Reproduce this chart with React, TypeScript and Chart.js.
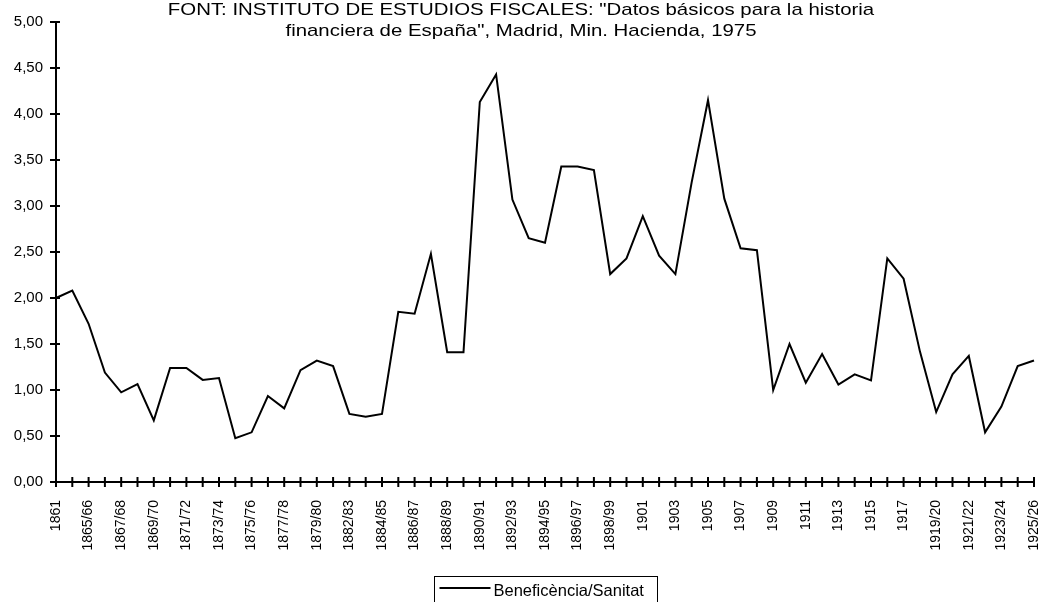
import React, { useEffect, useRef } from "react";
import { Chart, registerables } from "chart.js";

Chart.register(...registerables);

const categories: string[] = [
  "1861", "1864/65", "1865/66", "1866/67", "1867/68", "1868/69", "1869/70", "1870/71",
  "1871/72", "1872/73", "1873/74", "1874/75", "1875/76", "1876/77", "1877/78", "1878/79",
  "1879/80", "1880/81", "1882/83", "1883/84", "1884/85", "1885/86", "1886/87", "1887/88",
  "1888/89", "1889/90", "1890/91", "1891/92", "1892/93", "1893/94", "1894/95", "1895/96",
  "1896/97", "1897/98", "1898/99", "1899/00", "1901", "1902", "1903", "1904",
  "1905", "1906", "1907", "1908", "1909", "1910", "1911", "1912",
  "1913", "1914", "1915", "1916", "1917", "1918", "1919/20", "1920/21",
  "1921/22", "1922/23", "1923/24", "1924/25", "1925/26",
];

const beneficenciaSanitat: number[] = [
  2.0, 2.08, 1.72, 1.19, 0.975, 1.065, 0.67, 1.24,
  1.24, 1.11, 1.13, 0.475, 0.54, 0.935, 0.8, 1.215,
  1.32, 1.26, 0.74, 0.71, 0.74, 1.85, 1.83, 2.48,
  1.41, 1.41, 4.13, 4.43, 3.07, 2.65, 2.6, 3.43,
  3.43, 3.39, 2.26, 2.43, 2.89, 2.46, 2.26, 3.26,
  4.15, 3.08, 2.54, 2.52, 1.0, 1.5, 1.08, 1.39,
  1.06, 1.17, 1.105, 2.43, 2.21, 1.42, 0.76, 1.17,
  1.37, 0.54, 0.82, 1.26, 1.32,
];

const seriesLabel = "Beneficència/Sanitat";
const titleLines: string[] = [
  'FONT: INSTITUTO DE ESTUDIOS FISCALES: "Datos básicos para la historia',
  'financiera de España", Madrid, Min. Hacienda, 1975',
];

const FONT = '"Liberation Sans", Arial, sans-serif';

const overlayPlugin = {
  id: "overlay",
  afterDraw(chart: any) {
    const ctx = chart.ctx as CanvasRenderingContext2D;
    const xs = chart.scales.x;
    const ys = chart.scales.y;
    const area = chart.chartArea;
    ctx.save();
    ctx.strokeStyle = "#000";
    ctx.lineWidth = 2;
    // cross tick marks on x axis
    categories.forEach((_, i) => {
      const px = xs.getPixelForValue(i);
      ctx.beginPath();
      ctx.moveTo(px, area.bottom - 5);
      ctx.lineTo(px, area.bottom + 5);
      ctx.stroke();
    });
    // cross tick marks on y axis
    ys.ticks.forEach((t: any) => {
      const py = ys.getPixelForValue(t.value);
      ctx.beginPath();
      ctx.moveTo(area.left - 6, py);
      ctx.lineTo(area.left + 4, py);
      ctx.stroke();
    });

    // title (drawn over the plot, slightly widened like the original)
    ctx.fillStyle = "#000";
    ctx.font = `17px ${FONT}`;
    ctx.textAlign = "center";
    ctx.textBaseline = "alphabetic";
    const cx = chart.width / 2;
    titleLines.forEach((line, i) => {
      ctx.save();
      ctx.translate(cx, 15 + i * 21);
      ctx.scale(1.2, 1);
      ctx.fillText(line, 0, 0);
      ctx.restore();
    });

    // legend box
    const boxW = 223;
    const boxL = (area.left + area.right) / 2 - boxW / 2;
    const boxT = chart.height - 26;
    ctx.lineWidth = 1;
    ctx.strokeRect(Math.round(boxL) + 0.5, boxT + 0.5, boxW, 40);
    const ds = chart.data.datasets[0];
    ctx.strokeStyle = ds.borderColor;
    ctx.lineWidth = 2;
    ctx.beginPath();
    ctx.moveTo(boxL + 6, boxT + 12);
    ctx.lineTo(boxL + 57, boxT + 12);
    ctx.stroke();
    ctx.font = `16.5px ${FONT}`;
    ctx.textAlign = "left";
    ctx.fillText(ds.label, boxL + 60, boxT + 20);
    ctx.restore();
  },
};

export default function App() {
  const canvasRef = useRef<HTMLCanvasElement | null>(null);

  useEffect(() => {
    document.body.style.margin = "0";
    const canvas = canvasRef.current;
    if (!canvas) return;
    const chart = new Chart(canvas, {
      type: "line",
      data: {
        labels: categories,
        datasets: [
          {
            label: seriesLabel,
            data: beneficenciaSanitat,
            borderColor: "#000000",
            backgroundColor: "#000000",
            borderWidth: 2,
            pointRadius: 0,
            tension: 0,
            fill: false,
            clip: false as any,
          },
        ],
      },
      options: {
        animation: false,
        responsive: false,
        devicePixelRatio: 1,
        layout: { padding: { top: 22, right: 8, left: 0, bottom: 0 } },
        plugins: {
          legend: { display: false },
          title: { display: false },
          tooltip: { enabled: false },
        },
        scales: {
          x: {
            type: "category",
            offset: false,
            grid: { display: false, drawTicks: false },
            border: { display: true, color: "#000", width: 2 },
            ticks: {
              autoSkip: false,
              maxRotation: 90,
              minRotation: 90,
              padding: 18,
              color: "#000",
              font: { family: FONT, size: 14 },
              callback: (_v: any, i: number) => (i % 2 === 0 ? categories[i] : ""),
            },
            afterFit: (scale: any) => {
              scale.height = 120;
              scale.paddingLeft = 0;
              scale.paddingRight = 0;
            },
          },
          y: {
            min: 0,
            max: 5,
            grid: { display: false, drawTicks: false },
            border: { display: true, color: "#000", width: 2 },
            ticks: {
              stepSize: 0.5,
              padding: 13,
              color: "#000",
              font: { family: FONT, size: 15 },
              callback: (v: any) => Number(v).toFixed(2).replace(".", ","),
            },
            afterFit: (scale: any) => {
              scale.width = 56;
              scale.paddingTop = 0;
              scale.paddingBottom = 0;
            },
          },
        },
      },
      plugins: [overlayPlugin],
    });
    return () => chart.destroy();
  }, []);

  return (
    <div style={{ width: 1042, height: 602, position: "relative", background: "#fff" }}>
      <canvas ref={canvasRef} width={1042} height={602} />
    </div>
  );
}
